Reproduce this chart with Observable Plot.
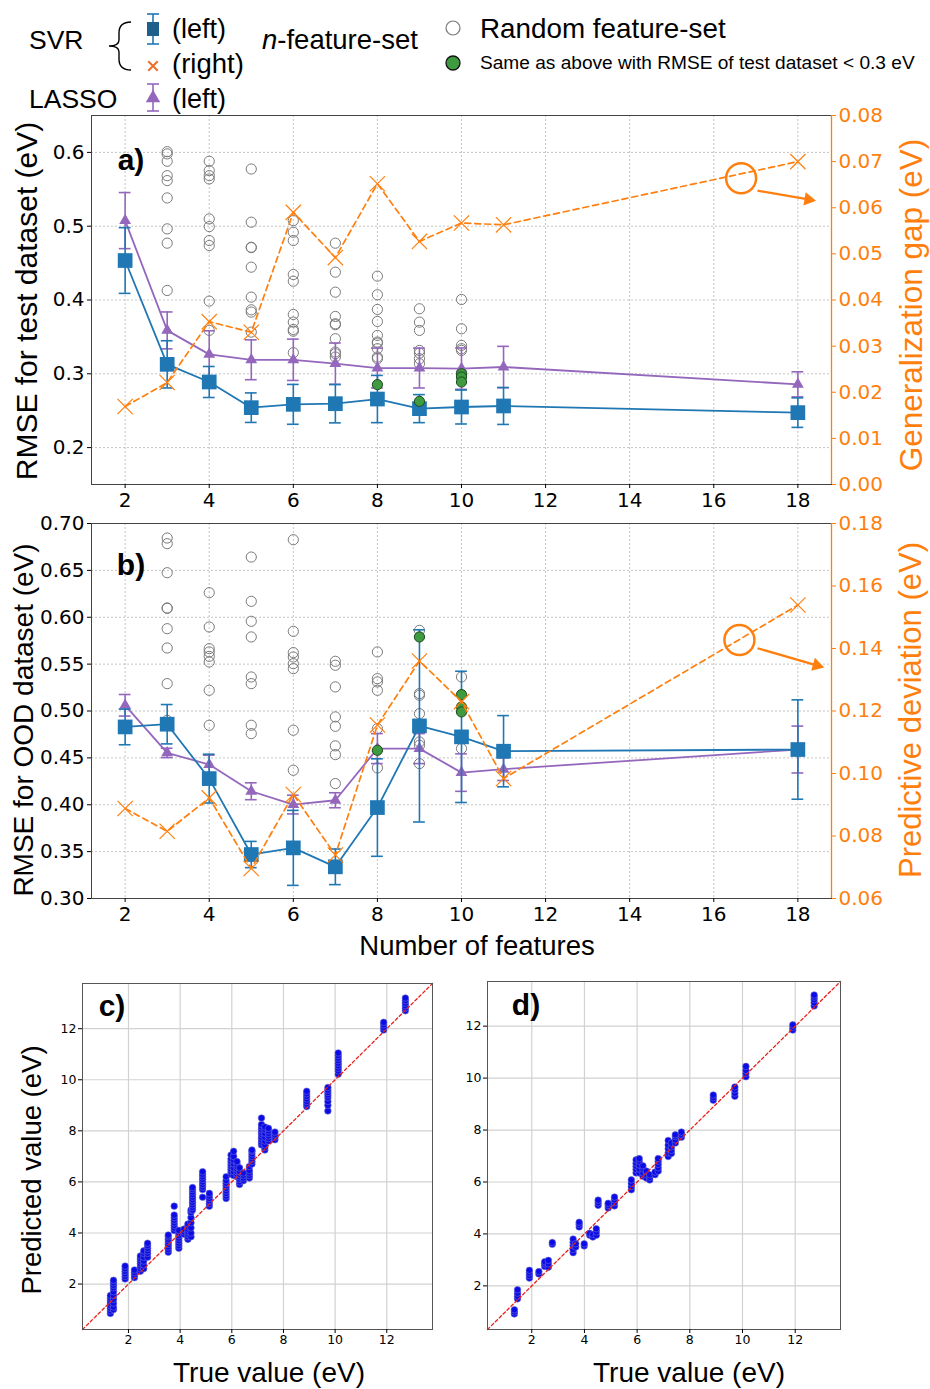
<!DOCTYPE html>
<html><head><meta charset="utf-8">
<script src="https://cdn.jsdelivr.net/npm/d3@7"></script>
<script src="https://cdn.jsdelivr.net/npm/@observablehq/plot@0.6"></script>
<style>
body{margin:0;background:#fff;}
#root{position:relative;width:930px;height:1389px;overflow:hidden;font-family:"Liberation Sans",Arial,sans-serif;color:#000;}
#root svg{position:absolute;}
.lbl{position:absolute;white-space:nowrap;line-height:1;}
</style></head><body><div id="root"></div>
<script>
// ---------------- DATA ----------------
const nFeatures = [2,3,4,5,6,7,8,9,10,11,18];
// panel a (left: RMSE test, right: generalization gap)
const svrTest = [0.4535,0.3128,0.2889,0.2541,0.2586,0.2595,0.2658,0.2528,0.2550,0.2564,0.2474];
const svrTestErr = [0.0445,0.032,0.021,0.020,0.027,0.026,0.032,0.019,0.023,0.025,0.020];
const lassoTest = [0.5076,0.3588,0.3263,0.3190,0.3190,0.3137,0.3078,0.3078,0.3070,0.3092,0.2857];
const lassoTestErr = [0.038,0.025,0.032,0.027,0.028,0.028,0.027,0.027,0.028,0.028,0.017];
const genGap = [0.0169,0.0221,0.0353,0.0330,0.0590,0.0492,0.0652,0.0527,0.0567,0.0563,0.0700];
const randTestSets = [3,4,5,6,7,8,9,10];
const randTestVals = [
  [0.601,0.598,0.588,0.5685,0.5618,0.5383,0.4964,0.477,0.4129],
  [0.588,0.5753,0.5685,0.564,0.5099,0.4995,0.4806,0.4738,0.3985,0.3588],
  [0.5775,0.5054,0.4715,0.4710,0.4445,0.4039,0.3867,0.3836,0.3565],
  [0.5076,0.4918,0.4806,0.4345,0.4255,0.3804,0.3700,0.3601,0.3578,0.3286],
  [0.477,0.4377,0.4106,0.3777,0.3678,0.3665,0.3475,0.3295,0.3272,0.3227],
  [0.4323,0.4071,0.3872,0.3709,0.3520,0.3430,0.3416,0.3340,0.3227,0.3204],
  [0.3881,0.3700,0.3588,0.3317,0.3281,0.3204,0.3137],
  [0.4007,0.3610,0.3385,0.3340,0.3317]
];
const goodTestSets = [8,9,10];
const goodTestVals = [[0.2853],[0.2627],[0.300,0.2956,0.2889]];
// panel b (left: RMSE OOD, right: predictive deviation)
const svrOOD = [0.4830,0.4859,0.4279,0.3469,0.3540,0.3338,0.3970,0.4841,0.4724,0.4571,0.4589];
const svrOODErr = [0.019,0.021,0.026,0.014,0.040,0.019,0.052,0.1025,0.070,0.038,0.053];
const lassoOOD = [0.5061,0.4553,0.4429,0.4144,0.4002,0.4048,0.4599,0.4599,0.4343,0.4379,0.4589];
const lassoOODErr = [0.0115,0.005,0.010,0.009,0.010,0.008,0.016,0.016,0.020,0.012,0.025];
const predDev = [0.0888,0.0815,0.0922,0.0696,0.0933,0.0739,0.1155,0.1360,0.1230,0.0984,0.1539];
const randOODSets = [3,4,5,6,7,8,9,10];
const randOODVals = [
  [0.6845,0.6785,0.6475,0.6099,0.6095,0.5878,0.5672,0.5292,0.4900],
  [0.6262,0.5896,0.5665,0.5630,0.5583,0.5523,0.5221,0.4848],
  [0.6642,0.6170,0.5957,0.5790,0.5363,0.5292,0.4848,0.4759],
  [0.6827,0.5850,0.5623,0.5576,0.5505,0.5452,0.4795,0.4368],
  [0.5530,0.5488,0.5257,0.4937,0.4837,0.4628,0.4535,0.4226],
  [0.5630,0.5345,0.5310,0.5221,0.4812,0.4393],
  [0.5860,0.5186,0.5168,0.4972,0.4670,0.4635,0.4439],
  [0.5363,0.4599]
];
const goodOODSets = [8,9,10];
const goodOODVals = [[0.4581],[0.5790],[0.5175,0.5043,0.4990]];
// annotation circles (n, right-axis value) and arrows
const noteA = {cx:16.65, cy:0.0664, x1:17.04, y1:0.0637, x2:18.25, y2:0.0618};
const noteB = {cx:16.61, cy:0.1427, x1:17.04, y1:0.1401, x2:18.45, y2:0.1346};
// panel c: true value columns and predicted values
const cTrue = [1.30,1.42,1.87,2.23,2.46,2.59,2.74,3.54,3.77,3.95,4.15,4.30,4.42,4.48,4.87,5.13,5.78,5.97,6.07,6.20,6.30,6.45,6.68,6.78,7.15,7.28,7.42,7.67,8.90,9.72,10.12,11.88,12.72];
const cPred = [
  [0.85,0.95,1.05,1.15,1.25,1.35,1.45,1.55],
  [1.0,1.1,1.25,1.4,1.55,1.7,1.85,1.95,2.05,2.15],
  [2.2,2.3,2.4,2.5,2.6,2.7],
  [2.25,2.35,2.45,2.55],
  [2.5,2.6,2.7,2.8,2.9,3.0,3.1],
  [2.6,2.75,2.9,3.05,3.2,3.3],
  [3.05,3.2,3.3,3.4,3.5,3.6],
  [3.25,3.35,3.45,3.55,3.65,3.75,3.85,3.92],
  [4.1,4.2,4.3,4.4,4.5,4.6,4.7,5.05],
  [3.4,3.5,3.6,3.7,3.8,3.9,4.0,4.1],
  [3.95,4.05,4.15],
  [3.75,3.85,3.95,4.05,4.15,4.25,4.35],
  [3.85,4.0,4.2,4.4,4.6,4.8,4.9],
  [4.9,5.0,5.1,5.2,5.3,5.4,5.5,5.6,5.7,5.78],
  [5.4,5.7,5.8,5.9,6.0,6.1,6.2,6.3,6.4],
  [5.05,5.15,5.25,5.35,5.45,5.55],
  [5.35,5.45,5.55,5.65,5.75,5.85,5.95,6.05,6.2],
  [6.3,6.4,6.5,6.6,6.7,6.8,6.9,7.05],
  [6.25,6.4,6.55,6.7,6.85,7.0,7.2],
  [6.2,6.3,6.4,6.5,6.6,6.7,6.8],
  [5.9,6.0,6.1,6.2,6.3,6.4,6.55],
  [6.05,6.15,6.25,6.35],
  [6.15,6.25,6.35,6.45,6.6],
  [6.7,6.8,6.9,7.0,7.1,7.2,7.25],
  [7.45,7.55,7.65,7.75,7.85,7.95,8.05,8.15,8.25,8.5],
  [7.25,7.35,7.45,7.6,7.75,7.9,8.05,8.15],
  [7.6,7.7,7.8,7.9,8.0,8.1],
  [7.65,7.75,7.85,7.95],
  [8.95,9.05,9.15,9.25,9.35,9.45,9.55],
  [8.78,9.0,9.15,9.3,9.4,9.5,9.6,9.7],
  [10.22,10.35,10.45,10.55,10.65,10.75,10.85,10.95,11.05],
  [11.95,12.05,12.15,12.25],
  [12.7,12.8,12.9,13.0,13.1,13.2]
];
// panel d
const dTrue = [1.34,1.46,1.91,2.27,2.49,2.63,2.78,3.57,3.67,3.80,3.99,4.20,4.32,4.45,4.52,4.90,5.14,5.78,5.96,6.08,6.22,6.35,6.48,6.68,6.80,7.18,7.30,7.45,7.68,8.89,9.71,10.13,11.91,12.72];
const dPred = [
  [0.92,1.0,1.08],
  [1.5,1.6,1.72,1.85],
  [2.3,2.4,2.5,2.6],
  [2.46,2.55],
  [2.75,2.85,2.93],
  [2.72,2.85,2.98],
  [3.6,3.67],
  [3.28,3.4,3.55,3.68,3.8],
  [3.5,3.62],
  [4.27,4.37,4.45],
  [3.54,3.62],
  [3.95,4.02],
  [3.88,3.98],
  [3.95,4.08,4.2],
  [5.1,5.2,5.3],
  [5.0,5.1,5.18],
  [5.08,5.2,5.32,5.42],
  [5.7,5.82,5.95,6.08],
  [6.35,6.48,6.6,6.72,6.85],
  [6.35,6.5,6.65,6.8,6.9],
  [6.22,6.35,6.5,6.62],
  [6.15,6.28,6.42],
  [6.08,6.18,6.28],
  [6.28,6.38],
  [6.42,6.55,6.68,6.8,6.9],
  [6.98,7.12,7.28,7.42,7.6],
  [7.1,7.22,7.35,7.5],
  [7.5,7.62,7.75,7.82],
  [7.72,7.82,7.92],
  [9.15,9.25,9.35],
  [9.3,9.42,9.55,9.66],
  [10.05,10.18,10.3,10.45],
  [11.85,11.95,12.05],
  [12.78,12.9,13.02,13.12,13.2]
];
const cLimits = [0.22, 13.77];
const dLimits = [0.32, 13.72];
const xTicks = [2,4,6,8,10,12,14,16,18];
const scTicks = [2,4,6,8,10,12];

// ---------------- DRAW ----------------
const orange = "#ff7f0e", blue = "#1f77b4", purple = "#9467bd", green = "#3f9b3f";
const root = document.getElementById("root");
const xDomain = [1.2, 18.8];

function put(node, left, top) { node.style.left = left + "px"; node.style.top = top + "px"; root.appendChild(node); }
function label(text, cx, cy, size, opts = {}) {
  const d = document.createElement("div");
  d.className = "lbl";
  d.innerHTML = text;
  d.style.fontSize = size + "px";
  if (opts.color) d.style.color = opts.color;
  if (opts.bold) d.style.fontWeight = "bold";
  d.style.transform = "translate(-50%,-50%)" + (opts.rot ? " rotate(-90deg)" : "");
  put(d, cx, cy);
}
const baseStyle = {background: "transparent", fontFamily: "'DejaVu Sans', sans-serif", fontSize: "20px", overflow: "visible"};

function mainPanel(cfg) {
  const svr = nFeatures.map((x, i) => ({x, y: cfg.svr[i], e: cfg.svrErr[i]}));
  const las = nFeatures.map((x, i) => ({x, y: cfg.lasso[i], e: cfg.lassoErr[i]}));
  const rnd = cfg.randSets.flatMap((n, i) => cfg.randVals[i].map(v => ({x: n, y: v})));
  const good = cfg.goodSets.flatMap((n, i) => cfg.goodVals[i].map(v => ({x: n, y: v})));
  const errMarks = (rows, color) => [
    Plot.ruleX(rows, {x: "x", y1: d => d.y - d.e, y2: d => d.y + d.e, stroke: color, strokeWidth: 1.6}),
    Plot.ruleY(rows, {y: d => d.y + d.e, x1: d => d.x - 0.14, x2: d => d.x + 0.14, stroke: color, strokeWidth: 1.6}),
    Plot.ruleY(rows, {y: d => d.y - d.e, x1: d => d.x - 0.14, x2: d => d.x + 0.14, stroke: color, strokeWidth: 1.6})
  ];
  const common = {width: 930, height: cfg.height, marginTop: cfg.mt, marginBottom: cfg.mb, marginLeft: 91, marginRight: 99};
  const left = Plot.plot({
    ...common,
    x: {domain: xDomain}, y: {domain: cfg.yDomain},
    style: baseStyle,
    marks: [
      Plot.gridX(xTicks, {stroke: "#b5b5b5", strokeOpacity: 1, strokeWidth: 0.8, strokeDasharray: "2,2"}),
      Plot.gridY(cfg.yTicks, {stroke: "#b5b5b5", strokeOpacity: 1, strokeWidth: 0.8, strokeDasharray: "2,2"}),
      Plot.dot(rnd, {x: "x", y: "y", r: 5.1, stroke: "#7a7a7a", strokeWidth: 1, fill: "none"}),
      ...errMarks(las, purple),
      Plot.line(las, {x: "x", y: "y", stroke: purple, strokeWidth: 1.8}),
      Plot.dot(las, {x: "x", y: "y", symbol: "triangle", r: 4.4, fill: purple}),
      ...errMarks(svr, blue),
      Plot.line(svr, {x: "x", y: "y", stroke: blue, strokeWidth: 1.8}),
      Plot.dot(svr, {x: "x", y: "y", symbol: "square", r: 8.3, fill: blue}),
      Plot.dot(good, {x: "x", y: "y", r: 5.1, fill: green, stroke: "#1d4a1d", strokeWidth: 1}),
      Plot.frame({stroke: "#444"}),
      Plot.axisX(xTicks, {tickSize: 4, tickPadding: 4, fontSize: 20, label: null}),
      Plot.axisY(cfg.yTicks, {tickSize: 4, tickPadding: 3, fontSize: 20, tickFormat: cfg.yFmt, label: null})
    ]
  });
  put(left, 0, cfg.top);
  const r = nFeatures.map((x, i) => ({x, y: cfg.right[i]}));
  const n = cfg.note;
  const right = Plot.plot({
    ...common,
    x: {domain: xDomain, axis: null}, y: {domain: cfg.rDomain, axis: null},
    style: {...baseStyle, color: orange},
    marks: [
      Plot.line(r, {x: "x", y: "y", stroke: orange, strokeWidth: 1.7, strokeDasharray: "6,4"}),
      Plot.dot(r, {x: "x", y: "y", symbol: "times", r: 7, stroke: orange, strokeWidth: 1.2}),
      Plot.dot([n], {x: "cx", y: "cy", r: 15, stroke: orange, strokeWidth: 2.5, fill: "none"}),
      Plot.link([n], {x1: "x1", y1: "y1", x2: "x2", y2: "y2", stroke: orange, strokeWidth: 2.2}),
      Plot.dot([n], {x: "x2", y: "y2", symbol: "triangle", r: 5, fill: orange, rotate: cfg.arrowRot}),
      Plot.ruleX([xDomain[1]], {stroke: orange, strokeWidth: 1.3}),
      Plot.axisY(cfg.rTicks, {anchor: "right", tickSize: 4, tickPadding: 3, fontSize: 20, tickFormat: ".2f", label: null, stroke: orange, fill: orange})
    ]
  });
  put(right, 0, cfg.top);
}

mainPanel({
  top: 0, height: 510, mt: 115, mb: 26,
  yDomain: [0.15, 0.65], yTicks: [0.2, 0.3, 0.4, 0.5, 0.6], yFmt: ".1f",
  svr: svrTest, svrErr: svrTestErr, lasso: lassoTest, lassoErr: lassoTestErr,
  randSets: randTestSets, randVals: randTestVals, goodSets: goodTestSets, goodVals: goodTestVals,
  right: genGap, rDomain: [0, 0.08], rTicks: [0, 0.01, 0.02, 0.03, 0.04, 0.05, 0.06, 0.07, 0.08],
  note: noteA, arrowRot: 100
});
mainPanel({
  top: 503, height: 430, mt: 20, mb: 35,
  yDomain: [0.30, 0.70], yTicks: [0.30, 0.35, 0.40, 0.45, 0.50, 0.55, 0.60, 0.65, 0.70], yFmt: ".2f",
  svr: svrOOD, svrErr: svrOODErr, lasso: lassoOOD, lassoErr: lassoOODErr,
  randSets: randOODSets, randVals: randOODVals, goodSets: goodOODSets, goodVals: goodOODVals,
  right: predDev, rDomain: [0.06, 0.18], rTicks: [0.06, 0.08, 0.10, 0.12, 0.14, 0.16, 0.18],
  note: noteB, arrowRot: 106
});

function scatterPanel(cfg) {
  const pts = cfg.xs.flatMap((x, i) => cfg.ys[i].map(y => ({x, y})));
  const diag = cfg.lim.map(v => ({x: v, y: v}));
  const p = Plot.plot({
    width: cfg.w, height: cfg.h, marginLeft: cfg.ml, marginRight: cfg.mr, marginTop: cfg.mt, marginBottom: cfg.mb,
    x: {domain: cfg.lim}, y: {domain: cfg.lim},
    style: {...baseStyle, fontSize: "12.5px"},
    marks: [
      Plot.gridX(scTicks, {stroke: "#d2d2d2", strokeOpacity: 1, strokeWidth: 1.2}),
      Plot.gridY(scTicks, {stroke: "#d2d2d2", strokeOpacity: 1, strokeWidth: 1.2}),
      Plot.dot(pts, {x: "x", y: "y", r: 3.3, fill: "#0b0be8", stroke: "#6b6bcf", strokeWidth: 0.6}),
      Plot.line(diag, {x: "x", y: "y", stroke: "#e8201c", strokeWidth: 1.3, strokeDasharray: "3,2.5"}),
      Plot.frame({stroke: "#555"}),
      Plot.axisX(scTicks, {tickSize: 4, tickPadding: 2, fontSize: 12.5, label: null}),
      Plot.axisY(scTicks, {tickSize: 4, tickPadding: 2, fontSize: 12.5, label: null})
    ]
  });
  put(p, cfg.left, cfg.top);
}
scatterPanel({left: 0, top: 960, w: 450, h: 395, ml: 82, mr: 18, mt: 23, mb: 26, lim: cLimits, xs: cTrue, ys: cPred});
scatterPanel({left: 450, top: 960, w: 460, h: 395, ml: 37, mr: 70, mt: 21, mb: 26, lim: dLimits, xs: dTrue, ys: dPred});

// ---------------- TEXT ----------------
label("RMSE for test dataset (eV)", 27, 301, 30, {rot: true});
label("Generalization gap (eV)", 912, 305, 31.5, {rot: true, color: orange});
label("RMSE for OOD dataset (eV)", 24, 720, 28, {rot: true});
label("Predictive deviation (eV)", 910, 710, 31, {rot: true, color: orange});
label("Number of features", 477, 946, 27.5);
label("Predicted value (eV)", 32, 1170, 27.5, {rot: true});
label("True value (eV)", 269, 1373, 28);
label("True value (eV)", 689, 1373, 28);
label("a)", 131, 160, 30, {bold: true});
label("b)", 131, 565, 30, {bold: true});
label("c)", 112, 1006, 30, {bold: true});
label("d)", 526, 1005, 30, {bold: true});

// ---------------- LEGEND ----------------
const lg = d3.create("svg").attr("width", 930).attr("height", 118)
  .style("font-family", "'Liberation Sans', Arial, sans-serif");
const t = (x, y, s, size) => lg.append("text").attr("x", x).attr("y", y).attr("font-size", size).text(s);
t(29, 49, "SVR", 26.5);
lg.append("path").attr("d", "M131,22 Q119,22 119,33 L119,40 Q119,46 109,46 Q119,46 119,52 L119,59 Q119,70 131,70").attr("fill", "none").attr("stroke", "#000").attr("stroke-width", 1.4);
// SVR left symbol
lg.append("line").attr("x1", 153).attr("x2", 153).attr("y1", 14).attr("y2", 44).attr("stroke", blue).attr("stroke-width", 1.6);
lg.append("line").attr("x1", 147).attr("x2", 159).attr("y1", 14).attr("y2", 14).attr("stroke", blue).attr("stroke-width", 1.6);
lg.append("line").attr("x1", 147).attr("x2", 159).attr("y1", 44).attr("y2", 44).attr("stroke", blue).attr("stroke-width", 1.6);
lg.append("rect").attr("x", 147).attr("y", 22).attr("width", 12).attr("height", 14).attr("fill", "#1f5f8b");
t(172, 38, "(left)", 27);
lg.append("path").attr("d", d3.symbol(d3.symbolTimes, 60)()).attr("transform", "translate(153,66)").attr("stroke", "#e8702a").attr("stroke-width", 2).attr("fill", "none");
t(172, 73, "(right)", 27.5);
const nf = t(262, 49, "", 27.5);
nf.append("tspan").attr("font-style", "italic").text("n");
nf.append("tspan").text("-feature-set");
lg.append("circle").attr("cx", 453).attr("cy", 28).attr("r", 7).attr("fill", "none").attr("stroke", "#777").attr("stroke-width", 1.2);
t(480, 38, "Random feature-set", 27.8);
lg.append("circle").attr("cx", 453).attr("cy", 63).attr("r", 7).attr("fill", green).attr("stroke", "#111").attr("stroke-width", 1.3);
t(480, 69, "Same as above with RMSE of test dataset < 0.3 eV", 19.1);
t(29, 108, "LASSO", 26.5);
lg.append("line").attr("x1", 153).attr("x2", 153).attr("y1", 84).attr("y2", 111).attr("stroke", purple).attr("stroke-width", 1.6);
lg.append("line").attr("x1", 147).attr("x2", 159).attr("y1", 84).attr("y2", 84).attr("stroke", purple).attr("stroke-width", 1.6);
lg.append("line").attr("x1", 147).attr("x2", 159).attr("y1", 111).attr("y2", 111).attr("stroke", purple).attr("stroke-width", 1.6);
lg.append("path").attr("d", d3.symbol(d3.symbolTriangle, 90)()).attr("transform", "translate(153,98)").attr("fill", purple);
t(172, 108, "(left)", 27);
put(lg.node(), 0, 0);
</script></body></html>
